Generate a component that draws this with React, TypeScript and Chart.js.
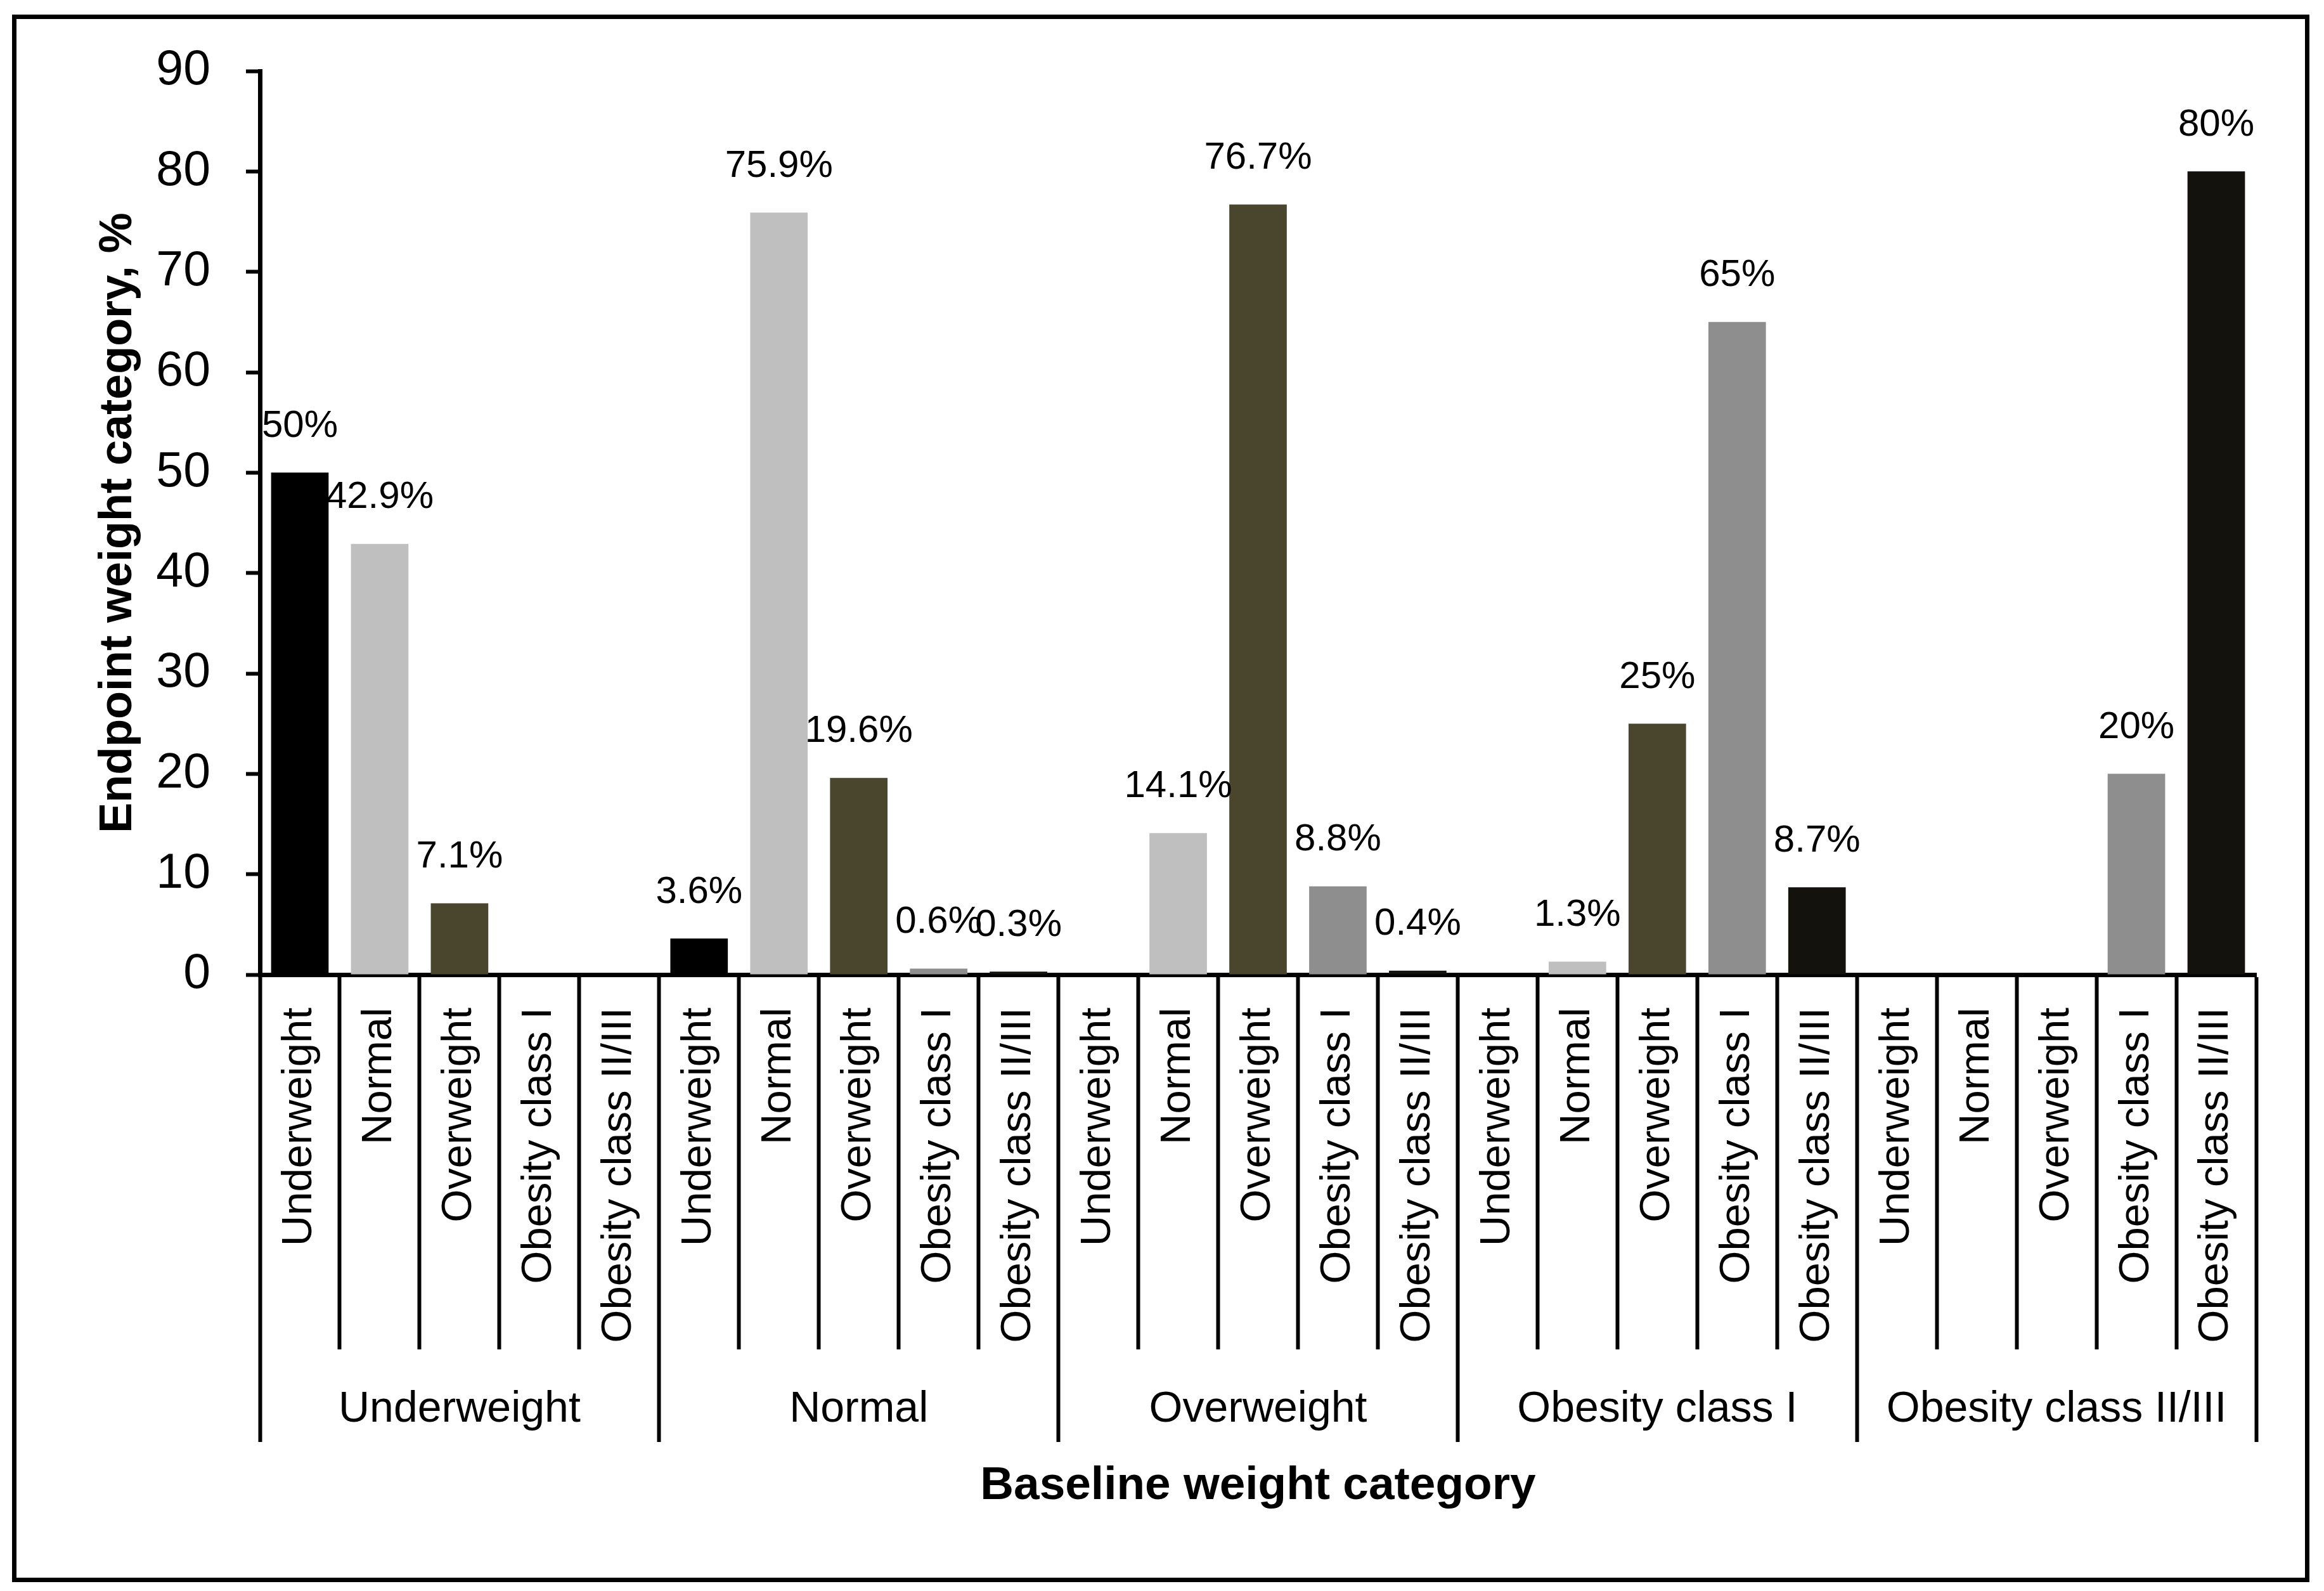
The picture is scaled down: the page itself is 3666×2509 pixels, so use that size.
import React, { useEffect, useRef } from "react";
import { Chart, registerables } from "chart.js";

Chart.register(...registerables);

const endpointCategories = ["Underweight", "Normal", "Overweight", "Obesity class I", "Obesity class II/III"];
const baselineGroups = ["Underweight", "Normal", "Overweight", "Obesity class I", "Obesity class II/III"];
const endpointColors = ["#000000", "#bfbfbf", "#4a452d", "#8e8e8e", "#13120d"];

// endpoint distribution (%) per baseline category
const fromUnderweight = [50, 42.9, 7.1, 0, 0];
const fromNormal = [3.6, 75.9, 19.6, 0.6, 0.3];
const fromOverweight = [0, 14.1, 76.7, 8.8, 0.4];
const fromObesityI = [0, 1.3, 25, 65, 8.7];
const fromObesityII = [0, 0, 0, 20, 80];

const yTicks = [0, 10, 20, 30, 40, 50, 60, 70, 80, 90];

const W = 3666;
const H = 2509;
const FONT = "'Liberation Sans', Arial, sans-serif";

export default function App() {
  const ref = useRef<HTMLCanvasElement | null>(null);

  useEffect(() => {
    document.body.style.margin = "0";
    document.body.style.overflow = "hidden";
    const canvas = ref.current;
    if (!canvas) return;

    const groupsData = [fromUnderweight, fromNormal, fromOverweight, fromObesityI, fromObesityII];
    const labels: string[] = [];
    const values: number[] = [];
    const colors: string[] = [];
    groupsData.forEach((arr) => {
      arr.forEach((v, i) => {
        labels.push(endpointCategories[i]);
        values.push(v);
        colors.push(endpointColors[i]);
      });
    });

    const dataLabels = {
      id: "dataLabels",
      afterDatasetsDraw(chart: any) {
        const ctx = chart.ctx;
        const meta = chart.getDatasetMeta(0);
        ctx.save();
        ctx.font = `60px ${FONT}`;
        ctx.fillStyle = "#000";
        ctx.textAlign = "center";
        ctx.textBaseline = "middle";
        meta.data.forEach((bar: any, i: number) => {
          const v = values[i];
          if (!v) return;
          ctx.fillText(`${v}%`, bar.x, bar.y - 73);
        });
        ctx.restore();
      },
    };

    const chart = new Chart(canvas, {
      type: "bar",
      data: {
        labels,
        datasets: [
          {
            data: values,
            backgroundColor: colors,
            borderWidth: 0,
            barPercentage: 0.72,
            categoryPercentage: 1,
          },
        ],
      },
      options: {
        animation: false,
        responsive: false,
        devicePixelRatio: 1,
        events: [],
        layout: { padding: { left: 30, right: 107, top: 112, bottom: 81 } },
        plugins: {
          legend: { display: false },
          tooltip: { enabled: false },
        },
        scales: {
          x: {
            type: "category",
            position: "bottom",
            offset: true,
            grid: {
              display: true,
              offset: true,
              drawOnChartArea: false,
              drawTicks: true,
              tickLength: 591,
              tickWidth: 6,
              tickColor: "#000",
            },
            border: { display: true, color: "#000", width: 7 },
            ticks: {
              autoSkip: false,
              maxRotation: 90,
              minRotation: 90,
              padding: -539,
              color: "#000",
              font: { family: FONT, size: 67 },
            },
            afterFit: (scale: any) => {
              scale.height = 591;
            },
          },
          x2: {
            type: "category",
            position: "bottom",
            labels: baselineGroups,
            offset: true,
            grid: {
              display: true,
              offset: true,
              drawOnChartArea: false,
              drawTicks: true,
              tickLength: 146,
              tickWidth: 6,
              tickColor: "#000",
            },
            border: { display: false },
            ticks: {
              autoSkip: false,
              maxRotation: 0,
              minRotation: 0,
              padding: -92,
              color: "#000",
              font: { family: FONT, size: 68 },
            },
            title: {
              display: true,
              text: "Baseline weight category",
              color: "#000",
              font: { family: FONT, size: 73, weight: "bold" },
              padding: { top: 0, bottom: 40 },
            },
            afterFit: (scale: any) => {
              scale.height = 300;
            },
          },
          y: {
            type: "linear",
            min: 0,
            max: 90,
            afterBuildTicks: (scale: any) => {
              scale.ticks = yTicks.map((v) => ({ value: v }));
            },
            grid: {
              display: true,
              drawOnChartArea: false,
              drawTicks: true,
              tickLength: 22,
              tickWidth: 6,
              tickColor: "#000",
            },
            border: { display: true, color: "#000", width: 7 },
            ticks: {
              padding: 56,
              color: "#000",
              font: { family: FONT, size: 77 },
            },
            title: {
              display: true,
              text: "Endpoint weight category, %",
              color: "#000",
              font: { family: FONT, size: 72, weight: "bold" },
              padding: { top: 114, bottom: 0 },
            },
            afterFit: (scale: any) => {
              scale.width = 380;
            },
          },
        },
      },
      plugins: [dataLabels],
    });

    return () => {
      chart.destroy();
    };
  }, []);

  return (
    <div style={{ position: "relative", width: W, height: H, background: "#fff" }}>
      <canvas ref={ref} width={W} height={H} style={{ display: "block", width: W, height: H }} />
      <div
        style={{
          position: "absolute",
          left: 19,
          top: 23,
          width: 3624,
          height: 2472,
          border: "7px solid #000",
          boxSizing: "border-box",
          pointerEvents: "none",
        }}
      />
    </div>
  );
}
